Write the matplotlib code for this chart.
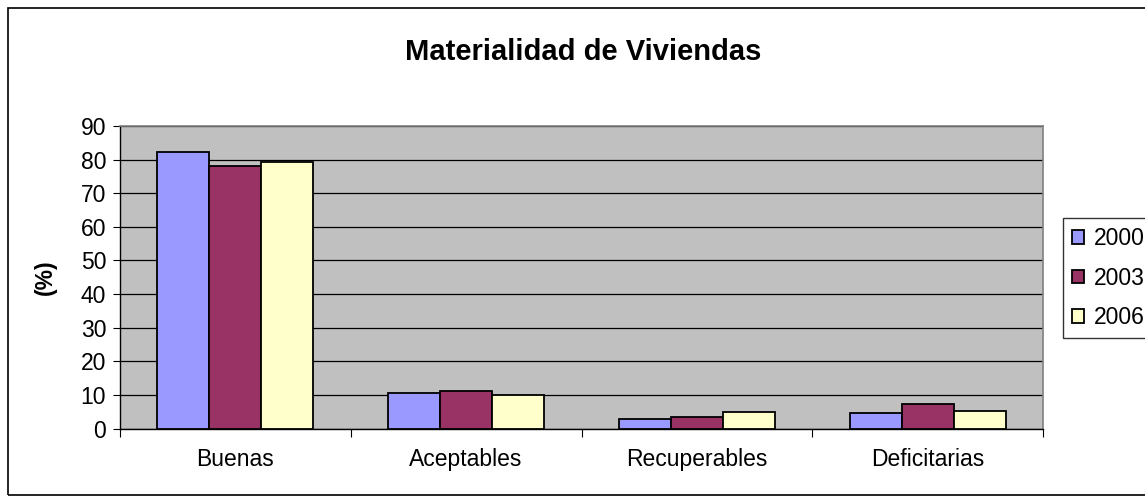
import matplotlib
matplotlib.use('Agg')
import matplotlib.pyplot as plt
import numpy as np

plt.rcParams['font.family'] = ['Liberation Sans', 'DejaVu Sans']

categories = ['Buenas', 'Aceptables', 'Recuperables', 'Deficitarias']
years = ['2000', '2003', '2006']
v2000 = [82.2, 10.6, 2.7, 4.5]
v2003 = [78.2, 11.2, 3.3, 7.3]
v2006 = [79.4, 10.1, 5.0, 5.1]
series = [v2000, v2003, v2006]
colors = ['#9999FF', '#993366', '#FFFFCC']

fig = plt.figure(figsize=(11.45, 5.0), dpi=100)
ax = fig.add_axes([120 / 1145, 1 - 428.5 / 500, 923 / 1145, 302.5 / 500])

# outer chart frame
fig.patches.append(plt.Rectangle((8 / 1145, 5 / 500), 1.2, 487 / 500, transform=fig.transFigure,
                                 fill=False, edgecolor='black', linewidth=1.2))

x = np.arange(len(categories))
w = 0.225
for i, (vals, c, yr) in enumerate(zip(series, colors, years)):
    ax.bar(x + (i - 1) * w, vals, width=w, color=c, edgecolor='black', linewidth=1.3, label=yr, zorder=3)

ax.set_facecolor('#C0C0C0')
ax.set_xlim(-0.5, 3.5)
ax.set_ylim(0, 90)
ax.set_yticks(range(0, 91, 10))
ax.yaxis.grid(True, color='black', linewidth=0.9, zorder=1)
ax.set_axisbelow(True)
ax.set_xticks(np.arange(-0.5, 3.6, 1.0))
ax.set_xticklabels([])
ax.set_xticks(x, minor=True)
ax.set_xticklabels(categories, minor=True, fontsize=16.5)
ax.tick_params(axis='x', which='minor', length=0, pad=14)
ax.tick_params(axis='x', which='major', length=6, direction='out', color='black')
ax.tick_params(axis='y', labelsize=16.5, length=5, direction='out', pad=5)

for side in ['top', 'right']:
    ax.spines[side].set_color('#808080')
    ax.spines[side].set_linewidth(1.2)
for side in ['left', 'bottom']:
    ax.spines[side].set_color('black')
    ax.spines[side].set_linewidth(1.0)

ax.set_ylabel('(%)', fontsize=16.5, fontweight='bold', labelpad=17)
fig.text(583 / 1145, 1 - 52 / 500, 'Materialidad de Viviendas', ha='center', va='center',
         fontsize=21, fontweight='bold')

# legend runs past the right edge, as in the original
leg = fig.legend(loc='upper left', bbox_to_anchor=(1063 / 1145, 1 - 218 / 500), fontsize=16.5,
                 frameon=True, fancybox=False, edgecolor='black', handlelength=0.52, handleheight=0.52,
                 handletextpad=0.43, labelspacing=0.72, borderpad=0.4, borderaxespad=0)
leg.get_frame().set_linewidth(1.0)

plt.savefig('out.png', dpi=100, facecolor='white')
plt.close()
